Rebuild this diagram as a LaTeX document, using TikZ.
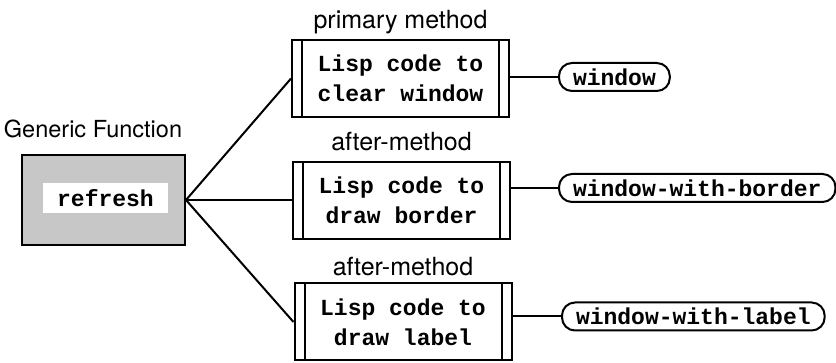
\documentclass[tikz,border=0pt]{standalone}
\usepackage{fontspec}
\setsansfont{TeX Gyre Heros}
\setmonofont{Liberation Mono}
\usetikzlibrary{positioning}
\tikzset{
  gflabel/.style = {font=\sffamily\fontsize{23.5}{27}\selectfont,inner sep=0pt},
  mlabel/.style  = {font=\sffamily\fontsize{25}{29}\selectfont,inner sep=0pt},
  generic/.style = {draw,fill=black!22,minimum width=163pt,minimum height=90pt,inner sep=0pt},
  fnname/.style  = {fill=white,font=\ttfamily\bfseries\fontsize{23}{27}\selectfont,
                    minimum width=125pt,minimum height=30pt,inner sep=0pt},
  method/.style  = {draw,minimum width=217pt,minimum height=77pt,inner sep=0pt,align=center,
                    font=\ttfamily\bfseries\fontsize{23}{30}\selectfont,
                    path picture={
                      \draw ([xshift=10pt]path picture bounding box.north west)
                         -- ([xshift=10pt]path picture bounding box.south west);
                      \draw ([xshift=-10pt]path picture bounding box.north east)
                         -- ([xshift=-10pt]path picture bounding box.south east);}},
  cls/.style     = {draw,rounded corners=13pt,minimum height=28pt,inner xsep=14pt,inner ysep=0pt,
                    font=\ttfamily\bfseries\fontsize{23}{27}\selectfont,anchor=west},
  link/.style    = {line width=2pt},
}
\begin{document}
\begin{tikzpicture}[x=1pt,y=-1pt,line width=2pt]
  \useasboundingbox (0,0) rectangle (836,363);
  % generic function
  \node[generic] (fn) at (103.5,200) {};
  \node[fnname] (refresh) at (105.5,198) {refresh};
  \node[gflabel,anchor=base] (gftitle) at (93,138) {Generic Function};
  % methods
  \node[method] (prim) at (400.5,78.5) {Lisp code to\\clear window};
  \node[method] (aftA) at (401.5,200.5) {Lisp code to\\draw border};
  \node[method] (aftB) at (403,322) {Lisp code to\\draw label};
  \node[mlabel,above=4pt of prim] (primlbl) {primary method};
  \node[mlabel,above=9pt of aftA] (aftAlbl) {after-method};
  \node[mlabel,above=6pt of aftB] (aftBlbl) {after-method};
  % classes
  \node[cls] (clsA) at (558,77) {window};
  \node[cls] (clsB) at (558,188) {window-with-border};
  \node[cls] (clsC) at (561,316.5) {window-with-label};
  \draw[link] (fn.east) -- (prim.west);
  \draw[link] (fn.east) -- (fn.east -| aftA.west);
  \draw[link] (fn.east) -- (aftB.west);
  \draw[link] (clsA.west) -- (clsA.west -| prim.east);
  \draw[link] (clsB.west) -- (clsB.west -| aftA.east);
  \draw[link] (clsC.west) -- (clsC.west -| aftB.east);
\end{tikzpicture}
\end{document}
